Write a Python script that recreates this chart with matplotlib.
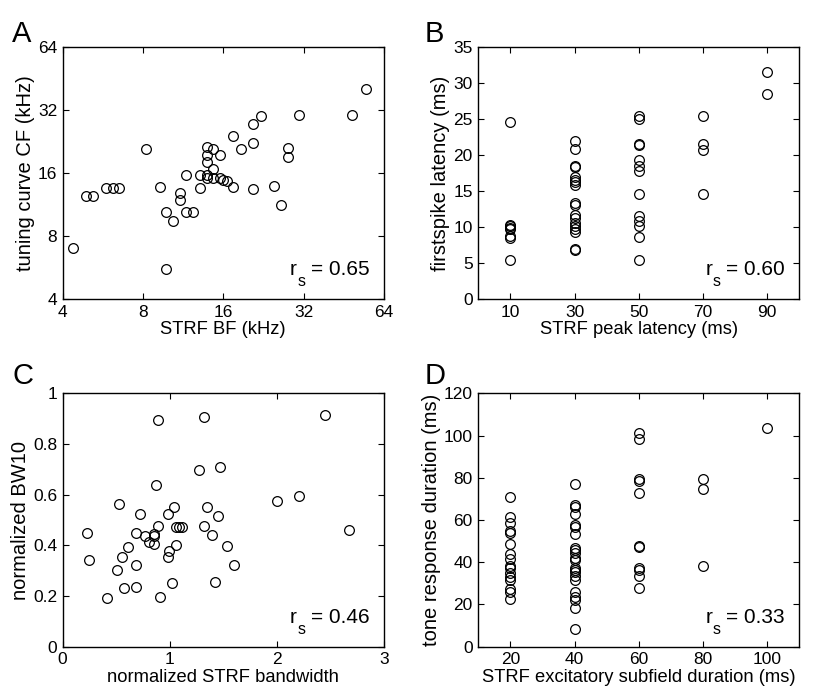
import matplotlib.pyplot as plt

plt.rcParams['font.family'] = ['Liberation Sans', 'DejaVu Sans']

# Panel A: STRF BF vs tuning curve CF (kHz)
a_bf = [4.36, 4.90, 5.19, 5.82, 6.17, 6.53, 8.23, 9.24, 9.79, 9.79, 10.37, 10.99,
        10.99, 11.64, 11.64, 12.34, 13.07, 13.07, 13.85, 13.85, 13.85, 13.85, 13.85,
        14.67, 14.67, 14.67, 15.54, 15.54, 16.0, 16.56, 17.45, 17.45, 18.6, 20.75,
        20.75, 20.75, 22.1, 24.8, 26.3, 27.9, 27.9, 30.7, 48.8, 54.8]
a_cf = [7.04, 12.42, 12.42, 13.6, 13.6, 13.6, 20.8, 13.8, 10.4, 5.58, 9.40, 12.79,
        11.93, 15.7, 10.4, 10.4, 15.7, 13.6, 21.45, 19.57, 18.06, 15.7, 15.14,
        20.9, 16.7, 15.14, 19.57, 15.14, 14.87, 14.6, 24.0, 13.8, 20.8, 27.5,
        22.4, 13.5, 30.1, 13.9, 11.3, 21.1, 19.1, 30.3, 30.5, 40.3]

# Panel B: STRF peak latency vs first spike latency (ms)
b_peak = [10] * 8 + [30] * 18 + [50] * 13 + [70] * 4 + [90] * 2
b_first = [24.6, 10.3, 10.1, 9.9, 9.7, 8.8, 8.5, 5.4,
           21.9, 20.8, 18.5, 18.3, 16.9, 16.6, 16.3, 15.8, 13.3, 13.0, 11.7, 11.2,
           10.6, 10.1, 9.7, 9.3, 6.95, 6.8,
           25.5, 25.0, 21.5, 21.4, 19.35, 18.5, 17.8, 14.6, 11.6, 10.9, 10.2, 8.6, 5.4,
           25.4, 21.5, 20.7, 14.6,
           31.5, 28.5]

# Panel C: normalized STRF bandwidth vs normalized BW10
c_bw = [0.224, 0.243, 0.411, 0.508, 0.527, 0.555, 0.570, 0.611, 0.685, 0.685, 0.688,
        0.726, 0.773, 0.804, 0.857, 0.857, 0.857, 0.875, 0.891, 0.894, 0.910, 0.981,
        0.981, 0.997, 1.022, 1.040, 1.059, 1.059, 1.084, 1.115, 1.271, 1.318, 1.318,
        1.349, 1.399, 1.427, 1.449, 1.473, 1.536, 1.601, 2.003, 2.206, 2.455, 2.676]
c_bw10 = [0.449, 0.342, 0.192, 0.301, 0.563, 0.353, 0.233, 0.392, 0.447, 0.321, 0.236,
          0.524, 0.438, 0.412, 0.446, 0.438, 0.404, 0.637, 0.895, 0.478, 0.196, 0.524,
          0.354, 0.379, 0.250, 0.553, 0.400, 0.474, 0.474, 0.474, 0.697, 0.907, 0.475,
          0.553, 0.442, 0.257, 0.517, 0.708, 0.399, 0.322, 0.574, 0.593, 0.916, 0.459]

# Panel D: STRF excitatory subfield duration vs tone response duration (ms)
d_dur = [20] * 16 + [40] * 22 + [60] * 11 + [80] * 3 + [100]
d_tone = [70.8, 61.5, 58.8, 54.7, 54.0, 48.7, 44.1, 41.4, 38.2, 37.2, 34.9, 33.0,
          31.4, 27.3, 25.7, 22.8,
          77.2, 67.0, 66.2, 62.8, 57.8, 56.7, 53.2, 46.8, 45.6, 44.5, 42.2, 40.9,
          37.1, 36.1, 35.2, 33.3, 31.4, 25.7, 23.3, 22.2, 18.4, 8.4,
          101.0, 98.4, 79.2, 78.6, 72.6, 47.5, 47.0, 37.2, 36.5, 33.3, 27.7,
          79.2, 74.8, 38.2,
          103.5]

rs_vals = ['0.65', '0.60', '0.46', '0.33']
letters = ['A', 'B', 'C', 'D']

fig = plt.figure(figsize=(8.13, 6.94), dpi=100)

axA = fig.add_axes([0.0771, 0.5692, 0.395, 0.3627])
axB = fig.add_axes([0.5883, 0.5692, 0.395, 0.3627])
axC = fig.add_axes([0.0771, 0.0682, 0.395, 0.365])
axD = fig.add_axes([0.5883, 0.0682, 0.395, 0.365])

mk = dict(marker='o', markersize=7, mfc='none', mec='black', mew=0.9, ls='none')


def style_ax(ax, xlabel, ylabel, rs):
    ax.tick_params(direction='in', top=True, right=True, length=4, width=0.8,
                   labelsize=12.5, pad=4)
    for s in ax.spines.values():
        s.set_linewidth(1.0)
    ax.set_xlabel(xlabel, fontsize=13.2, labelpad=1)
    ax.set_ylabel(ylabel, fontsize=14.5, labelpad=2)
    # r_s annotation with a deep subscript like the original
    ax.text(0.708, 0.095, 'r', transform=ax.transAxes, fontsize=15, va='baseline')
    ax.text(0.730, 0.050, 's', transform=ax.transAxes, fontsize=11.5, va='baseline')
    ax.text(0.772, 0.095, '= ' + rs, transform=ax.transAxes, fontsize=15,
            va='baseline')


# A
axA.plot(a_bf, a_cf, **mk)
axA.set_xscale('log', base=2)
axA.set_yscale('log', base=2)
axA.set_xlim(4, 64)
axA.set_ylim(4, 64)
axA.set_xticks([4, 8, 16, 32, 64])
axA.set_xticklabels(['4', '8', '16', '32', '64'])
axA.set_yticks([4, 8, 16, 32, 64])
axA.set_yticklabels(['4', '8', '16', '32', '64'])
axA.minorticks_off()
style_ax(axA, 'STRF BF (kHz)', 'tuning curve CF (kHz)', rs_vals[0])

# B
axB.plot(b_peak, b_first, **mk)
axB.set_xlim(0, 100)
axB.set_ylim(0, 35)
axB.set_xticks([10, 30, 50, 70, 90])
axB.set_yticks([0, 5, 10, 15, 20, 25, 30, 35])
style_ax(axB, 'STRF peak latency (ms)', 'firstspike latency (ms)', rs_vals[1])

# C
axC.plot(c_bw, c_bw10, **mk)
axC.set_xlim(0, 3)
axC.set_ylim(0, 1)
axC.set_xticks([0, 1, 2, 3])
axC.set_yticks([0, 0.2, 0.4, 0.6, 0.8, 1])
axC.set_yticklabels(['0', '0.2', '0.4', '0.6', '0.8', '1'])
style_ax(axC, 'normalized STRF bandwidth', 'normalized BW10', rs_vals[2])

# D
axD.plot(d_dur, d_tone, **mk)
axD.set_xlim(10, 110)
axD.set_ylim(0, 120)
axD.set_xticks([20, 40, 60, 80, 100])
axD.set_yticks([0, 20, 40, 60, 80, 100, 120])
style_ax(axD, 'STRF excitatory subfield duration (ms)', 'tone response duration (ms)',
         rs_vals[3])

# panel letters
fig.text(0.015, 0.94, letters[0], fontsize=21)
fig.text(0.522, 0.94, letters[1], fontsize=21)
fig.text(0.015, 0.447, letters[2], fontsize=21)
fig.text(0.522, 0.447, letters[3], fontsize=21)

fig.savefig('out.png', dpi=100)
